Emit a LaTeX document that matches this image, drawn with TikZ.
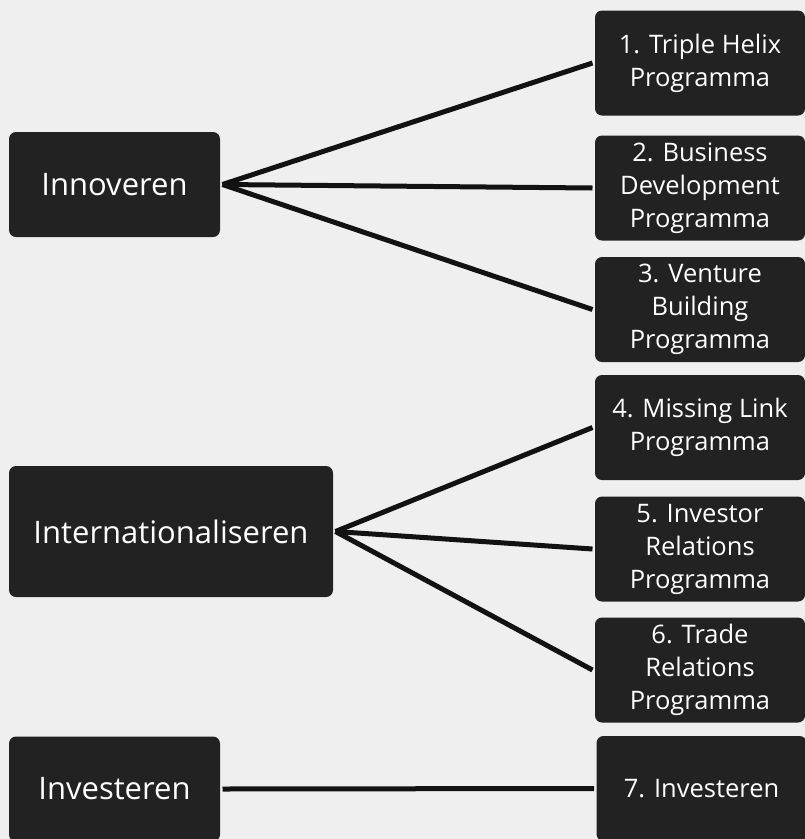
\documentclass[tikz,border=0pt]{standalone}
\usepackage{fontspec}
\setmainfont{Open Sans}
\definecolor{boxgray}{HTML}{222222}
\definecolor{paper}{HTML}{EFEFEF}
\definecolor{linegray}{HTML}{121212}
\begin{document}
\begin{tikzpicture}[x=1pt, y=-1pt, line width=5pt,
	every node/.style={rectangle, rounded corners=7pt, fill=boxgray, text=white, align=center, inner sep=0pt},
	theme/.style={minimum height=105pt, font=\fontsize{31}{38}\selectfont},
	prog/.style={minimum width=210pt, minimum height=105pt, font=\fontsize{25.5}{33}\selectfont},
	connector/.style={draw=linegray, line width=5pt}]
	\fill[paper] (0,0) rectangle (805,839);
	\useasboundingbox (0,0) rectangle (805,839);
	\node[theme, minimum width=211pt] (innoveren) at (114.5,184.5) {Innoveren};
	\node[theme, minimum width=324pt, minimum height=131pt] (internationaliseren) at (171,531.5) {Internationaliseren};
	\node[theme, minimum width=211pt] (investeren) at (114.5,789) {Investeren};
	\node[prog] (triplehelix) at (700,63) {1. Triple Helix\\Programma};
	\node[prog] (bizdev) at (700,188) {2. Business\\Development\\Programma};
	\node[prog] (venture) at (700,309.5) {3. Venture\\Building\\Programma};
	\node[prog] (missinglink) at (700,427.5) {4. Missing Link\\Programma};
	\node[prog] (investorrel) at (700,549) {5. Investor\\Relations\\Programma};
	\node[prog] (traderel) at (700,670) {6. Trade\\Relations\\Programma};
	\node[prog] (investprog) at (701.5,788.5) {7. Investeren};
	\draw[connector] (innoveren.east) -- (triplehelix.west);
	\draw[connector] (innoveren.east) -- (bizdev.west);
	\draw[connector] (innoveren.east) -- (venture.west);
	\draw[connector] (internationaliseren.east) -- (missinglink.west);
	\draw[connector] (internationaliseren.east) -- (investorrel.west);
	\draw[connector] (internationaliseren.east) -- (traderel.west);
	\draw[connector] (investeren.east) -- (investprog.west);
\end{tikzpicture}
\end{document}
